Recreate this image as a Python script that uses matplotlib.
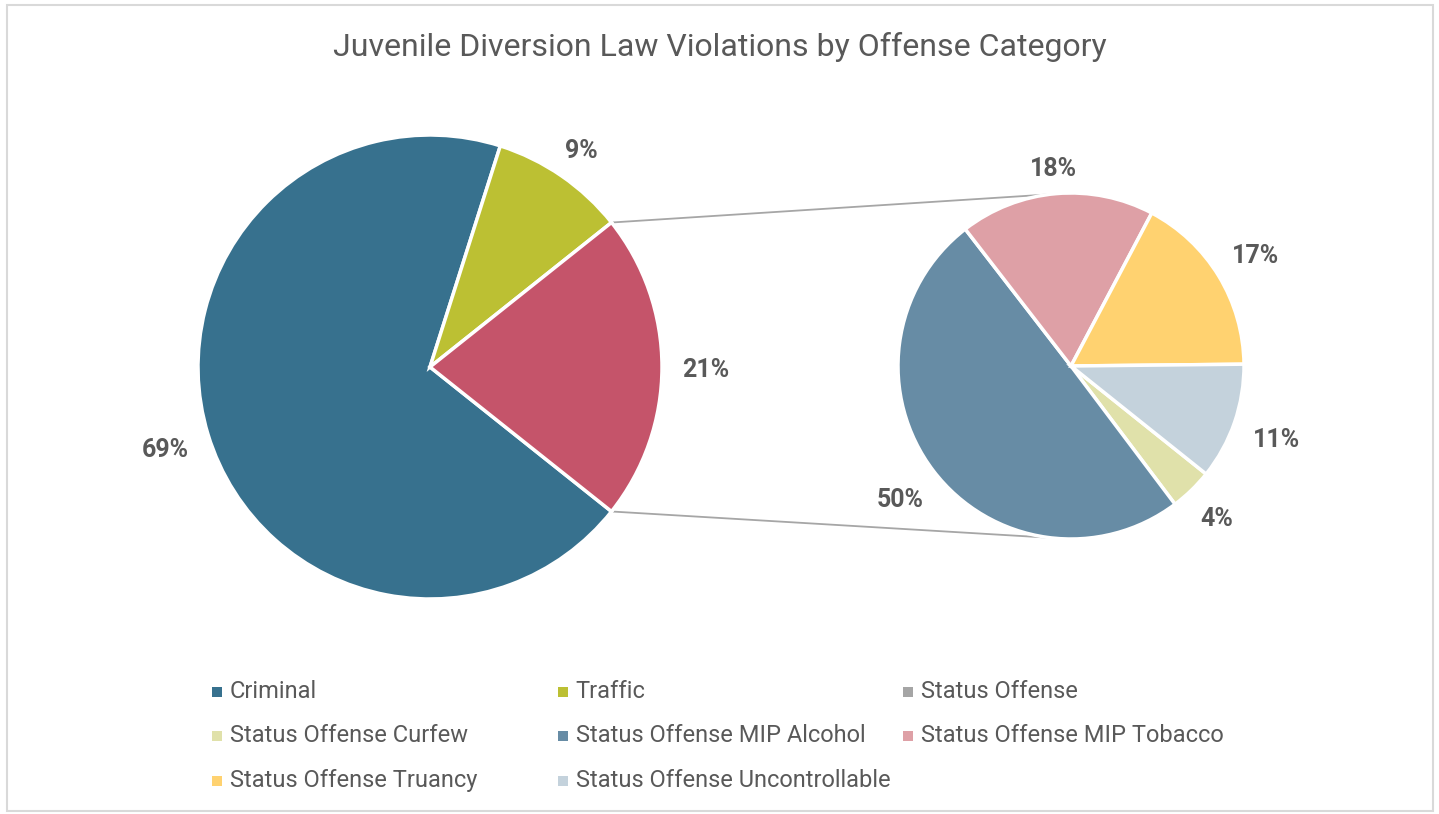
import numpy as np
import matplotlib.pyplot as plt
from matplotlib.patches import Rectangle

# ---- data ----
main_labels = ["Criminal", "Traffic", "Status Offense"]
main_values = [69.2, 9.4, 21.4]
main_colors = ["#37718E", "#BCC033", "#C5546A"]

sub_labels = ["Status Offense Curfew", "Status Offense MIP Alcohol",
              "Status Offense MIP Tobacco", "Status Offense Truancy",
              "Status Offense Uncontrollable"]
sub_values = [4.0, 49.8, 18.2, 17.1, 10.9]
sub_colors = ["#E0E1AA", "#678CA5", "#DEA0A6", "#FFD270", "#C4D2DC"]

legend_names = main_labels + sub_labels
legend_colors = ["#37718E", "#BCC033", "#A5A5A5"] + sub_colors

title = "Juvenile Diversion Law Violations by Offense Category"

# ---- layout (pixels, y measured from the top) ----
W, H = 1439, 814
TXT = "#595959"
plt.rcParams['font.family'] = ['Roboto', 'DejaVu Sans']

fig = plt.figure(figsize=(W / 100, H / 100), dpi=100)
ax = fig.add_axes([0, 0, 1, 1])

c1, r1 = (430, H - 367), 232
c2, r2 = (1071, H - 366), 173

main_frac = np.array(main_values) / sum(main_values)
sub_frac = np.array(sub_values) / sum(sub_values)

start1 = -main_frac[-1] * 180
start2 = -sub_frac[-1] * 360 + 0.6

wp = dict(edgecolor="white", linewidth=2.5)
ax.pie(main_values, colors=main_colors, startangle=start1, counterclock=False,
       center=c1, radius=r1, wedgeprops=wp, frame=True)
ax.pie(sub_values, colors=sub_colors, startangle=start2, counterclock=False,
       center=c2, radius=r2, wedgeprops=wp, frame=True)

# connector lines from the split slice to the secondary pie
a = np.deg2rad(main_frac[-1] * 180)
for s in (1, -1):
    x0 = c1[0] + r1 * np.cos(a)
    y0 = c1[1] + s * r1 * np.sin(a)
    ax.plot([x0, c2[0]], [y0, c2[1] + s * r2], color="#A6A6A6", lw=1.3, zorder=0)


def slice_mids(frac, start):
    ends = start - np.cumsum(frac) * 360
    begins = ends + frac * 360
    return np.deg2rad((begins + ends) / 2)


labels = []
for frac, start, c, r in ((main_frac, start1, c1, r1), (sub_frac, start2, c2, r2)):
    for f, m in zip(frac, slice_mids(frac, start)):
        t = ax.text(c[0], c[1], f"{f * 100:.0f}%", ha="center", va="center",
                    fontsize=18, fontweight="bold", color=TXT)
        labels.append((t, m, c, r))

ax.set_xlim(0, W)
ax.set_ylim(0, H)
ax.set_aspect("equal")
ax.axis("off")

# push each percentage label just outside its slice
fig.canvas.draw()
gap = 20
for t, m, c, r in labels:
    bb = t.get_window_extent()
    d = r + gap + 0.5 * (bb.width * abs(np.cos(m)) + 0.5 * bb.height * abs(np.sin(m)))
    t.set_position((c[0] + d * np.cos(m), c[1] + d * np.sin(m) - 3))

ax.text(W / 2, H - 47, title, ha="center", va="center", fontsize=23, color=TXT)

# legend, three per row
for i, (name, col) in enumerate(zip(legend_names, legend_colors)):
    x = 217 + (i % 3) * 345.5
    y = H - (691.5 + (i // 3) * 44.5)
    ax.scatter([x], [y], marker="s", s=55, color=col, linewidths=0)
    ax.text(x + 13, y, name, ha="left", va="center", fontsize=17, color=TXT)

ax.add_patch(Rectangle((7, H - 811), 1426, 806, fill=False,
                       edgecolor="#D9D9D9", lw=1.5))

fig.savefig("out.png", dpi=100)
